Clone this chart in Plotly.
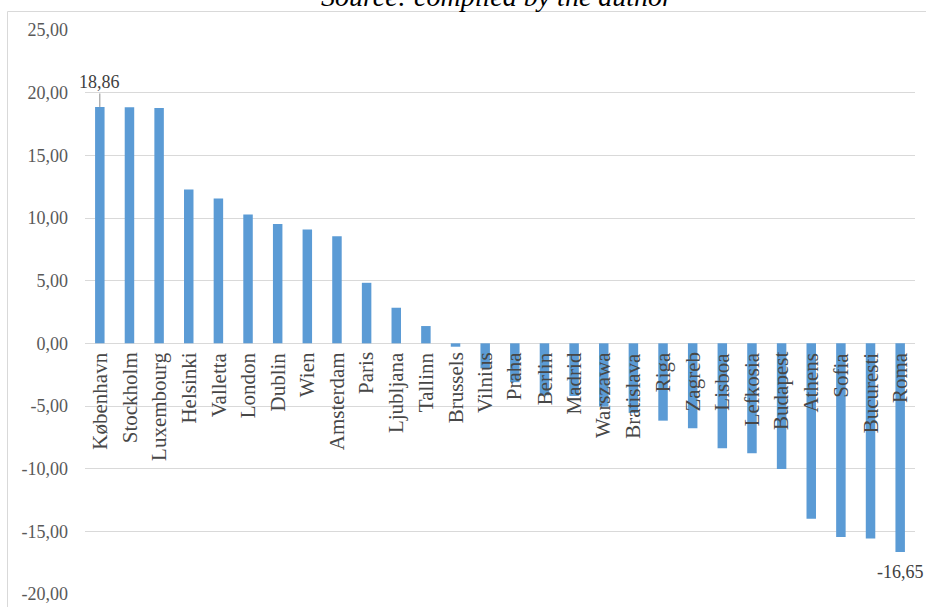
import plotly.graph_objects as go

cities = ["København", "Stockholm", "Luxembourg", "Helsinki", "Valletta", "London",
          "Dublin", "Wien", "Amsterdam", "Paris", "Ljubljana", "Tallinn", "Brussels",
          "Vilnius", "Praha", "Berlin", "Madrid", "Warszawa", "Bratislava", "Riga",
          "Zagreb", "Lisboa", "Lefkosia", "Budapest", "Athens", "Sofia", "Bucuresti", "Roma"]
values = [18.86, 18.84, 18.78, 12.27, 11.55, 10.28, 9.53, 9.08, 8.55, 4.83, 2.84, 1.38, -0.27,
          -2.0, -3.1, -4.15, -4.2, -5.05, -5.55, -6.17, -6.77, -8.37, -8.77, -10.02, -14.0,
          -15.46, -15.57, -16.65]
tick_vals = [-20, -15, -10, -5, 0, 5, 10, 15, 20, 25]
tick_text = ["-20,00", "-15,00", "-10,00", "-5,00", "0,00", "5,00", "10,00", "15,00", "20,00", "25,00"]
title_text = "Source: compiled by the author"

SERIF = "Liberation Serif, Times New Roman, serif"

fig = go.Figure()
fig.add_trace(go.Bar(x=cities, y=values, marker=dict(color="#5B9BD5", line=dict(width=0)),
                     hoverinfo="skip"))

annotations = []
for c in cities:
    annotations.append(dict(x=c, y=0, xref="x", yref="y", text=c, textangle=-90,
                            showarrow=False, xanchor="center", yanchor="top", yshift=-7,
                            font=dict(family=SERIF, size=21, color="#474747")))

# data labels
annotations.append(dict(x=cities[0], y=values[0], xref="x", yref="y",
                        text=f"{values[0]:.2f}".replace(".", ","),
                        showarrow=True, arrowhead=0, arrowwidth=1, arrowcolor="#8c8c8c",
                        ax=0, ay=-25, font=dict(family=SERIF, size=18, color="#404040")))
annotations.append(dict(x=cities[-1], y=values[-1], xref="x", yref="y",
                        text=f"{values[-1]:.2f}".replace(".", ","),
                        showarrow=False, yanchor="middle", yshift=-20,
                        font=dict(family=SERIF, size=18, color="#404040")))
# clipped caption at top
annotations.append(dict(x=0.5, y=1.0, xref="paper", yref="paper", text=f"<i>{title_text}</i>",
                        showarrow=False, xanchor="center", yanchor="middle", yshift=34,
                        xshift=-3, font=dict(family=SERIF, size=28, color="#000000")))

fig.update_layout(
    width=926, height=607,
    margin=dict(l=85, r=11, t=29.5, b=12.7, autoexpand=False),
    paper_bgcolor="white", plot_bgcolor="white",
    showlegend=False,
    bargap=0.68,
    annotations=annotations,
    shapes=[dict(type="rect", xref="paper", yref="paper",
                 x0=(7.5 - 85) / 830, x1=2, y0=-1, y1=1 + (29.5 - 11) / 564.8,
                 line=dict(color="#d9d9d9", width=1), layer="below")],
    xaxis=dict(showticklabels=False, showgrid=False, zeroline=False, showline=False,
               ticks="", range=[-0.5, len(cities) - 0.5], autorange=False),
    yaxis=dict(range=[-20, 25], tickvals=tick_vals, ticktext=tick_text,
               showgrid=True, gridcolor="#d9d9d9", gridwidth=1,
               zeroline=True, zerolinecolor="#d9d9d9", zerolinewidth=1,
               showline=False, ticks="", ticklabelstandoff=16,
               tickfont=dict(family=SERIF, size=18, color="#595959")),
)

fig.write_html("out.html", config={"displayModeBar": False},
               post_script="document.body.style.margin='0';document.body.style.overflow='hidden';")
